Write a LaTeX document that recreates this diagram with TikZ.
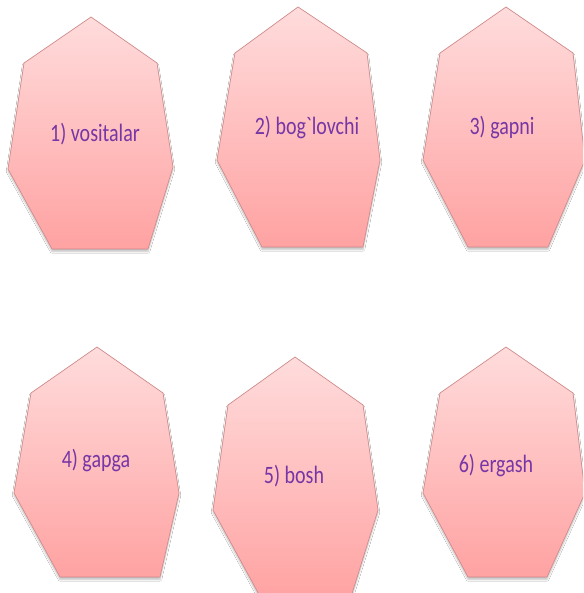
\documentclass[tikz,border=0pt]{standalone}
\usepackage{fontspec}
\newfontfamily\lblfont[FakeStretch=0.8]{Carlito}
\usetikzlibrary{shadows.blur}
\definecolor{lblpurple}{HTML}{7636A6}
\definecolor{heptline}{HTML}{D08C8C}
\definecolor{hepttop}{HTML}{FFDCDC}
\definecolor{heptbot}{HTML}{FFA2A2}
\begin{document}
\begin{tikzpicture}[
  x=1pt, y=-1pt,
  hept/.style={draw=heptline, line width=0.7pt, top color=hepttop, bottom color=heptbot,
    blur shadow={shadow xshift=0pt, shadow yshift=-2.5pt, shadow blur steps=6, shadow opacity=25}},
  lbl/.style={text=lblpurple, font=\lblfont\fontsize{25}{28}\selectfont, inner sep=0pt, anchor=base}
]
\useasboundingbox (0,0) rectangle (583,593);
\clip (0,0) rectangle (583,593);
\fill[white] (0,0) rectangle (583,593);
% ---------------- top row ----------------
\draw[hept] (91,17) -- (157,63) -- (173,167) -- (148,249) -- (52,249) -- (8,169) -- (24,63) -- cycle;
\draw[hept] (298,7) -- (367,53) -- (380,160) -- (363,247) -- (262,247) -- (217,160) -- (235,53) -- cycle;
\draw[hept] (506,7) -- (573,53) -- (585,160) -- (548,247) -- (468,247) -- (423,160) -- (440,53) -- cycle;
\node[lbl] (vositalar) at (95,142) {1) vositalar};
\node[lbl] (boglovchi) at (307,135) {2) bog`lovchi};
\node[lbl] (gapni) at (502,135) {3) gapni};
% ---------------- bottom row ----------------
\draw[hept] (97,347) -- (163,393) -- (179,493) -- (160,577) -- (60,577) -- (14,493) -- (31,393) -- cycle;
\draw[hept] (295,357) -- (363,405) -- (378,510) -- (350,600) -- (262,600) -- (213,510) -- (228,405) -- cycle;
\draw[hept] (506,347) -- (573,393) -- (585,493) -- (547,577) -- (468,577) -- (423,493) -- (440,393) -- cycle;
\node[lbl] (gapga) at (96,467) {4) gapga};
\node[lbl] (bosh) at (294,483) {5) bosh};
\node[lbl] (ergash) at (496,472) {6) ergash};
\end{tikzpicture}
\end{document}
